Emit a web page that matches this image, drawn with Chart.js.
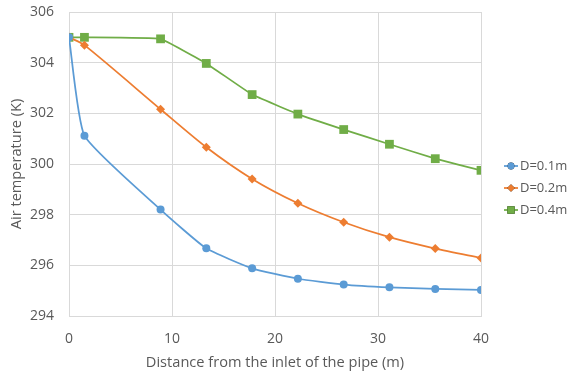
<!DOCTYPE html>
<html>
<head>
<meta charset="utf-8">
<script src="https://cdn.jsdelivr.net/npm/chart.js@4/dist/chart.umd.min.js"></script>
<style>
  html, body { margin: 0; padding: 0; background: #fff; }
  #wrap { width: 569px; height: 372px; }
</style>
</head>
<body>
<div id="wrap"><canvas id="tempChart" width="569" height="372"></canvas></div>
<script>
// distance from inlet (m)
const distance = [0, 1.5, 8.89, 13.33, 17.78, 22.22, 26.67, 31.11, 35.56, 40];
// air temperature (K) per pipe diameter
const tempD01 = [305.0, 301.12, 298.2, 296.67, 295.88, 295.47, 295.24, 295.13, 295.07, 295.03];
const tempD02 = [305.0, 304.69, 302.16, 300.66, 299.41, 298.45, 297.70, 297.11, 296.66, 296.29];
const tempD04 = [305.0, 305.0, 304.94, 303.97, 302.74, 301.97, 301.36, 300.78, 300.21, 299.75];
const seriesNames = ['D=0.1m', 'D=0.2m', 'D=0.4m'];
const yTicks = [294, 296, 298, 300, 302, 304, 306];
const xTicks = [0, 10, 20, 30, 40];

const COLORS = ['#5B9BD5', '#ED7D31', '#70AD47'];
const STYLES = ['circle', 'rectRot', 'rect'];
const RADII = [4, 4.5, 6.2];
const TENSION = [0.15, 0.25, 0.08];
const FONT = "'Open Sans', 'DejaVu Sans', sans-serif";
const TXT = '#595959';
const GRID = '#d9d9d9';

const toPts = arr => arr.map((v, i) => ({ x: distance[i], y: v }));

// legend drawn by hand so each key shows the line with its marker on it
const sideLegend = {
  id: 'sideLegend',
  afterDraw(chart) {
    const ctx = chart.ctx;
    const x0 = 504, x1 = 518;
    const rows = [166, 188, 210];
    chart.data.datasets.forEach((ds, i) => {
      const y = rows[i];
      ctx.save();
      ctx.strokeStyle = ds.borderColor;
      ctx.lineWidth = 1.75;
      ctx.beginPath(); ctx.moveTo(x0, y); ctx.lineTo(x1, y); ctx.stroke();
      Chart.helpers.drawPoint(ctx, {
        pointStyle: ds.pointStyle, radius: ds.pointRadius * 0.85, borderWidth: 0, rotation: 0
      }, (x0 + x1) / 2, y);
      ctx.fillStyle = ds.borderColor;
      ctx.fill();
      ctx.fillStyle = TXT;
      ctx.font = '13px ' + FONT;
      ctx.textBaseline = 'middle';
      ctx.textAlign = 'left';
      ctx.fillText(ds.label, x1 + 2, y);
      ctx.restore();
    });
  }
};

new Chart(document.getElementById('tempChart'), {
  type: 'line',
  data: {
    datasets: [tempD01, tempD02, tempD04].map((vals, i) => ({
      label: seriesNames[i],
      data: toPts(vals),
      borderColor: COLORS[i],
      backgroundColor: COLORS[i],
      borderWidth: 1.75,
      pointStyle: STYLES[i],
      pointRadius: RADII[i],
      pointBorderWidth: 0,
      tension: TENSION[i],
      fill: false,
    }))
  },
  options: {
    responsive: false,
    animation: false,
    layout: { padding: { top: 12, right: 88, left: 0, bottom: 0 } },
    plugins: { legend: { display: false }, tooltip: { enabled: false } },
    scales: {
      x: {
        type: 'linear', min: 0, max: 40,
        afterBuildTicks: s => { s.ticks = xTicks.map(v => ({ value: v })); },
        afterFit: s => { s.height = 56; s.paddingLeft = 0; s.paddingRight = 0; },
        grid: { color: GRID, drawTicks: false },
        border: { color: GRID },
        ticks: { color: TXT, padding: 15, font: { family: FONT, size: 14 } },
        title: {
          display: true, text: 'Distance from the inlet of the pipe (m)', color: TXT,
          font: { family: FONT, size: 14.6 }, padding: { top: 0, bottom: 0 }
        }
      },
      y: {
        min: 294, max: 306,
        afterBuildTicks: s => { s.ticks = yTicks.map(v => ({ value: v })); },
        afterFit: s => { s.width = 69; s.paddingTop = 0; s.paddingBottom = 0; },
        grid: { color: GRID, drawTicks: false },
        border: { color: GRID },
        ticks: { color: TXT, padding: 15, font: { family: FONT, size: 14 } },
        title: {
          display: true, text: 'Air temperature (K)', color: TXT,
          font: { family: FONT, size: 14.6 }, padding: { top: 8, bottom: 0 }
        }
      }
    }
  },
  plugins: [sideLegend]
});
</script>
</body>
</html>
